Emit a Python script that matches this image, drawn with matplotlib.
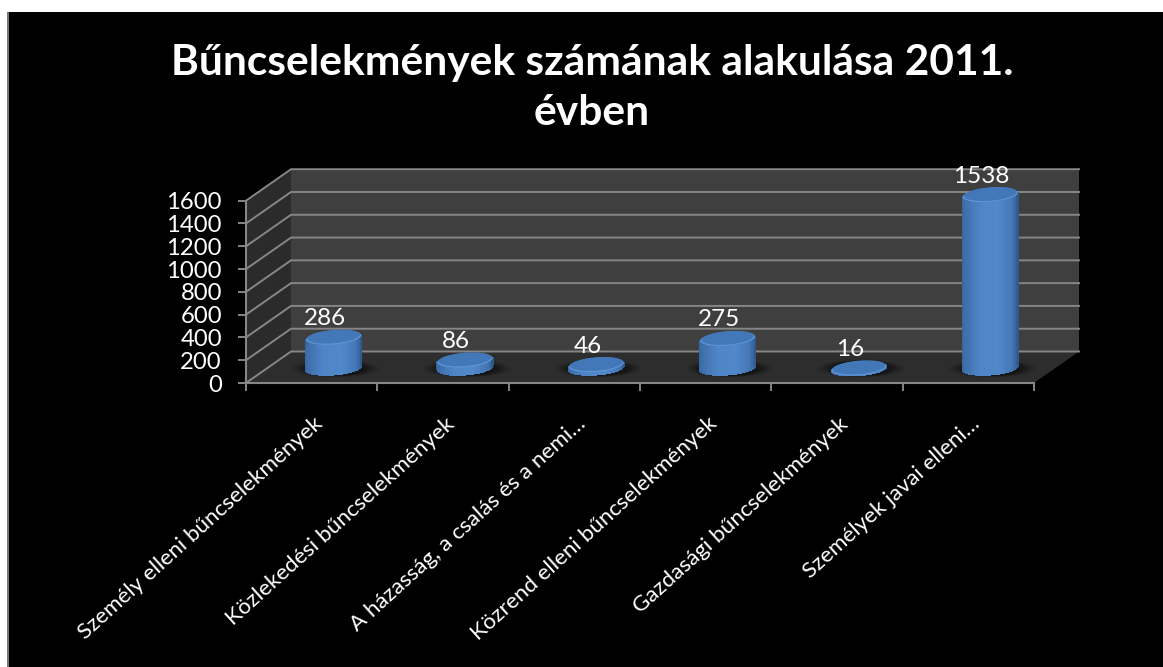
import numpy as np
import matplotlib.pyplot as plt
from matplotlib.colors import LinearSegmentedColormap
from matplotlib.patches import Polygon, Rectangle
from matplotlib.transforms import ScaledTranslation

plt.rcParams['font.family'] = ['Lato', 'DejaVu Sans']

# Data
categories = ['Személy elleni bűncselekmények', 'Közlekedési bűncselekmények',
              'A házasság, a csalás és a nemi…', 'Közrend elleni bűncselekmények',
              'Gazdasági bűncselekmények', 'Személyek javai elleni…']
values = [286, 86, 46, 275, 16, 1538]
y_ticks = [0, 200, 400, 600, 800, 1000, 1200, 1400, 1600]
title = 'Bűncselekmények számának alakulása 2011.\névben'

W, H = 1163, 667
fig = plt.figure(figsize=(W / 100, H / 100), dpi=100, facecolor='white')

# Black slide background with thin grey left edge
fig.add_artist(Rectangle((8 / W, 0), 1 - 8 / W, 1 - 12 / H, transform=fig.transFigure,
                         facecolor='black', edgecolor='none', zorder=-2))
fig.add_artist(Rectangle((7 / W, 0), 1.5 / W, 1 - 12 / H, transform=fig.transFigure,
                         facecolor='#777777', edgecolor='none', zorder=-1))

# The axes is the front plane of the 3D box
x0, x1, y_base, y_top = 246, 1034, 383, 200.7
ax = fig.add_axes([x0 / W, 1 - y_base / H, (x1 - x0) / W, (y_base - y_top) / H])
ax.set_facecolor('none')
n = len(categories)
ymax = y_ticks[-1]
px_x = n / (x1 - x0)           # data units per pixel
px_y = ymax / (y_base - y_top)
dx, dy = 45 * px_x, 31.5 * px_y

# Walls and floor
ax.add_patch(Polygon([(dx, dy), (n + dx, dy), (n + dx, ymax + dy), (dx, ymax + dy)],
                     facecolor='#3f3f3f', edgecolor='none', zorder=1, clip_on=False))
ax.add_patch(Polygon([(0, 0), (dx, dy), (dx, ymax + dy), (0, ymax)],
                     facecolor='#2b2b2b', edgecolor='none', zorder=1, clip_on=False))
ax.add_patch(Polygon([(0, 0), (n, 0), (n + dx, dy), (dx, dy)],
                     facecolor='#2d2d2d', edgecolor='none', zorder=1, clip_on=False))

# Gridlines on both walls
for t in y_ticks:
    ax.plot([0, dx, n + dx], [t, t + dy, t + dy], color='#868686', lw=1.4,
            zorder=2, clip_on=False, solid_joinstyle='miter')

# Cylinders
body_cmap = LinearSegmentedColormap.from_list(
    'body', ['#35659f', '#4172b0', '#4f86c8', '#5088ca', '#4578b6', '#2f5a8f'])
half_w = 27.5 * px_x
half_h = 7 * px_y
t_all = np.linspace(0, 2 * np.pi, 90)


def ellipse(cx, cy, t, scale=1.0):
    ex = np.cos(t)
    ey = np.sin(t)
    return cx + half_w * scale * ex, cy + half_h * scale * ey + 0.3 * scale * half_h * ex


for i, v in enumerate(values):
    cx = i + 0.5 + 22 * px_x
    cy = 15.5 * px_y
    top = cy + v - 2.5 * px_y   # the rounded cap sits a little below the value

    # Soft shadow on the floor
    for s, a in zip(np.linspace(1.6, 1.05, 10), [0.04] * 4 + [0.08] * 6):
        sx = cx + half_w * s * np.cos(t_all) + 2 * px_x
        sy = cy + half_h * (0.45 + s * 0.5) * np.sin(t_all) - 1 * px_y
        ax.fill(sx, sy, color='black', alpha=a, lw=0, zorder=3, clip_on=False)

    # Body: mesh between the front edge of the base and of the top
    t_low = np.linspace(np.pi, 2 * np.pi, 120)
    bx, by = ellipse(cx, cy, t_low)
    tx, ty = ellipse(cx, top, t_low)
    shade = np.linspace(0, 1, len(bx) - 1).reshape(1, -1)
    ax.pcolormesh(np.vstack([bx, tx]), np.vstack([by, ty]), shade, cmap=body_cmap,
                  shading='flat', edgecolors='face', linewidth=0.2, zorder=4, clip_on=False)

    # Top face with lighter rim
    ex, ey = ellipse(cx, top, t_all)
    ax.fill(ex, ey, color='#5f95d6', lw=0, zorder=5, clip_on=False)
    ex, ey = ellipse(cx, top + 0.8 * px_y, t_all, 0.96)
    ax.fill(ex, ey, color='#4277b8', lw=0, zorder=6, clip_on=False)

    ax.annotate(str(v), (i + 0.5, v), xytext=(13, 15.7 + 16), textcoords='offset pixels',
                ha='center', va='center', color='white', fontsize=17.5, zorder=7,
                annotation_clip=False)

# Axes
ax.set_xlim(0, n)
ax.set_ylim(0, ymax)
for s in ['top', 'right']:
    ax.spines[s].set_visible(False)
for s in ['left', 'bottom']:
    ax.spines[s].set_color('#868686')
    ax.spines[s].set_linewidth(1.5)
    ax.spines[s].set_zorder(8)
ax.set_yticks(y_ticks)
ax.tick_params(axis='y', colors='#868686', labelcolor='white', labelsize=17.2,
               length=5.8, width=1.4, pad=11.5)
ax.set_xticks(np.arange(n + 1))
ax.set_xticklabels([])
ax.tick_params(axis='x', which='major', colors='#868686', length=6, width=1.4)
ax.set_xticks(np.arange(n) + 0.5, minor=True)
ax.set_xticklabels(categories, minor=True, rotation=42, ha='right', va='top',
                   rotation_mode='anchor', color='white', fontsize=16.1)
ax.tick_params(axis='x', which='minor', length=0, pad=22)
shift = ScaledTranslation(2 / 100, 0, fig.dpi_scale_trans)
for lab in ax.get_xticklabels(minor=True):
    lab.set_transform(lab.get_transform() + shift)

fig.text(592 / W, 1 - 88 / H, title, ha='center', va='center', color='white',
         fontsize=30.6, fontweight='bold', linespacing=1.38)

fig.savefig('out.png', dpi=100, facecolor=fig.get_facecolor())
